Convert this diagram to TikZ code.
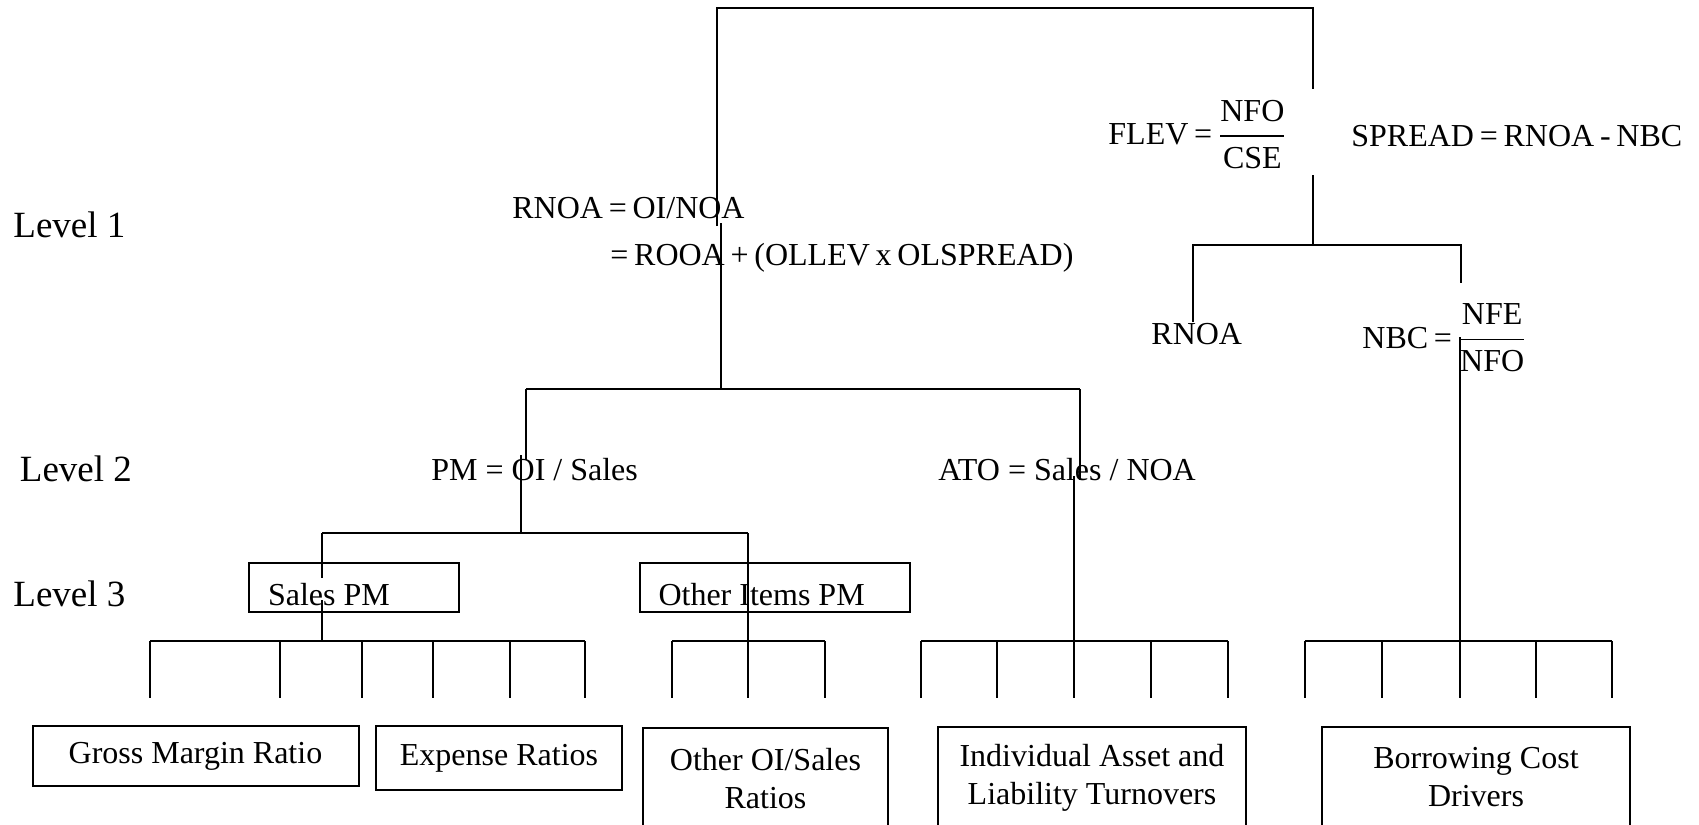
\documentclass[tikz,border=0pt]{standalone}
\usepackage{fontspec}
\usepackage{amsmath}
\setmainfont{Liberation Serif}
\usetikzlibrary{positioning,calc}
\newcommand\tightsp{\spaceskip=0.18em plus 0.05em minus 0.02em\relax}

\begin{document}
\begin{tikzpicture}[
  x=0.5pt,y=-0.5pt,
  txt/.style={font=\fontsize{16}{19}\selectfont,inner sep=0pt,anchor=base west},
  tight/.style={txt,font=\fontsize{16}{19}\selectfont\tightsp},
  lvl/.style={font=\fontsize{18.5}{22}\selectfont,inner sep=0pt,anchor=base west},
  pmbox/.style={draw,line width=1pt,font=\fontsize{16}{19}\selectfont,anchor=north west,
    align=flush left,inner xsep=9.5pt,inner ysep=1pt,text height=20pt,text depth=2.5pt},
  leaf/.style={draw,line width=1pt,font=\fontsize{16}{19}\selectfont,anchor=north west,
    align=center,inner sep=0pt},
  ln/.style={line width=1pt}
]
\useasboundingbox (0,0) rectangle (1699,825);
\clip (0,0) rectangle (1699,825);

% level labels
\node[lvl] (lvlone) at (13,237) {Level 1};
\node[lvl] (lvltwo) at (19.5,481.5) {Level 2};
\node[lvl] (lvlthree) at (13,606.5) {Level 3};

% ratios
\node[tight] (rnoa) at (512,218) {RNOA = OI/NOA};
\node[tight] (rnoaexp) at (610,265) {= ROOA + (OLLEV x OLSPREAD)};
\node[tight] (flev) at (1108,144.5) {FLEV = $\dfrac{\text{NFO}}{\text{CSE}}$};
\node[tight] (spread) at (1351,146.5) {SPREAD = RNOA - NBC};
\node[txt] (rnoaleaf) at (1151,344) {RNOA};
\node[tight] (nbc) at (1362,348) {NBC = $\dfrac{\text{NFE}}{\text{NFO}}$};
\node[txt] (pm) at (431,480) {PM = OI / Sales};
\node[txt] (ato) at (938,480) {ATO = Sales / NOA};

% level 3 boxes
\node[pmbox,text width=86pt] (salespm) at (248,562) {Sales PM};
\node[pmbox,text width=116pt] (otherpm) at (638.5,562) {Other Items PM};

% drivers
\node[leaf,minimum width=163pt,minimum height=30pt] (gmr) at (31.5,725) {Gross Margin Ratio};
\node[leaf,minimum width=123pt,minimum height=32pt] (expr) at (375,725) {Expense Ratios};
\node[leaf,minimum width=122.5pt,minimum height=50.5pt] (otheroi) at (642,727) {Other OI/Sales\\Ratios};
\node[leaf,minimum width=154pt,minimum height=50.5pt] (turnover) at (937,726) {Individual Asset and\\Liability Turnovers};
\node[leaf,minimum width=154pt,minimum height=50.5pt] (borrow) at (1321,726) {Borrowing Cost\\Drivers};

% top split
\coordinate (topl) at (716.5,7.5);
\coordinate (topr) at (1313,7.5);
\coordinate (rnoaend) at (716.5,226);
\coordinate (rnoastart) at (721,223);
\coordinate (flevin) at (1313,89);
\coordinate (flevout) at (1313,175);
\draw[ln] (rnoaend) -- (topl) -- (topr) -- (flevin);

% level 2 split
\coordinate (pmbar) at (526,389);
\coordinate (atobar) at (1080,389);
\draw[ln] (rnoastart) -- (rnoastart |- pmbar);
\draw[ln] (pmbar) -- (atobar);
\draw[ln] (pmbar) -- (526,460);
\draw[ln] (521,455) -- (521,533);
\draw[ln] (atobar) -- (1080,480);
\draw[ln] (1074,476) -- (1074,641);

% leverage split
\coordinate (levl) at (1192.5,245);
\coordinate (levr) at (1461,245);
\draw[ln] (flevout) -- (1313,245);
\draw[ln] (1192.5,322) -- (levl) -- (levr) -- (1461,283);
\draw[ln] (1459.5,337) -- (1459.5,641);

% level 3 split
\coordinate (spl) at (322,533);
\coordinate (opl) at (748,533);
\draw[ln] (spl) -- (opl);
\draw[ln] (spl) -- (322,578);
\draw[ln] (322,600) -- (322,641);
\draw[ln] (opl) -- (748,641);

% driver combs
\draw[ln] (150,641) -- (585,641);
\foreach \x in {150,279.5,361.5,432.5,509.5,585}
  \draw[ln] (\x,641) -- ++(0,57);
\draw[ln] (672,641) -- (825,641);
\foreach \x in {672,748,825}
  \draw[ln] (\x,641) -- ++(0,57);
\draw[ln] (921,641) -- (1228,641);
\foreach \x in {921,997,1074,1151,1228}
  \draw[ln] (\x,641) -- ++(0,57);
\draw[ln] (1305,641) -- (1612,641);
\foreach \x in {1305,1382,1459.5,1535.5,1612}
  \draw[ln] (\x,641) -- ++(0,57);
\end{tikzpicture}
\end{document}
